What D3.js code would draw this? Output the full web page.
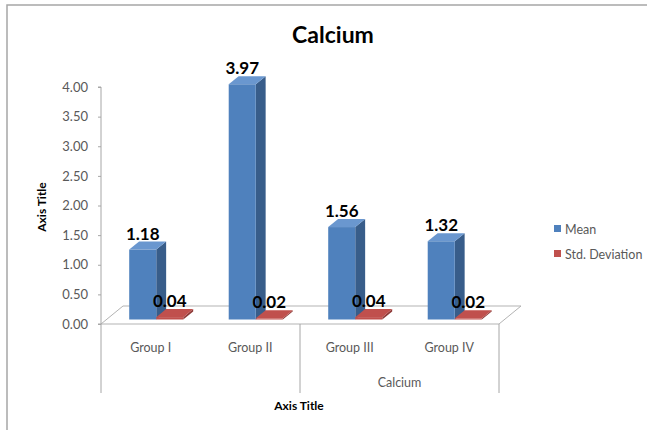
<!DOCTYPE html>
<html>
<head>
<meta charset="utf-8">
<script src="https://cdn.jsdelivr.net/npm/d3@7"></script>
<style>
  html, body { margin: 0; padding: 0; background: #fff; }
  svg { display: block; }
  text { font-family: Lato, "Open Sans", sans-serif; }
</style>
</head>
<body>
<svg id="chart" width="647" height="430"></svg>
<script>
// Calcium: mean and standard deviation per group
const groups = ["Group I", "Group II", "Group III", "Group IV"];
const seriesNames = ["Mean", "Std. Deviation"];
const meanValues = [1.18, 3.97, 1.56, 1.32];
const sdValues = [0.04, 0.02, 0.04, 0.02];
const yTicks = [0, 0.5, 1, 1.5, 2, 2.5, 3, 3.5, 4];

const colors = {
  "Mean": { front: "#4F81BD", side: "#385D8A", top: "#6A97CF" },
  "Std. Deviation": { front: "#C0504D", side: "#8E3A38", top: "#C0504D" }
};

const svg = d3.select("#chart");

// plot floor (front edge) and perspective depth vector
const left = 101, right = 499, baseY = 324, topY = 87;
const depth = { x: 22, y: -18 };
const frontT = 0.25, backT = 0.7;

const x0 = d3.scaleBand().domain(groups).range([left, right]).paddingInner(0).paddingOuter(0);
const x1 = d3.scaleBand().domain(seriesNames).range([0, x0.bandwidth()]).paddingInner(0).paddingOuter(0.84);
const y = d3.scaleLinear().domain([0, 4]).range([baseY, topY]);

// outer frame
svg.append("path")
  .attr("d", "M7,432 L7,5 L650,5")
  .attr("fill", "none").attr("stroke", "#a6a6a6").attr("stroke-width", 1.5);

// title
svg.append("text").attr("x", 333).attr("y", 43).attr("text-anchor", "middle")
  .attr("font-size", 23).attr("font-weight", "bold").attr("fill", "#000").text("Calcium");

// floor
svg.append("path")
  .attr("d", `M${left},${baseY} L${left + depth.x},${baseY + depth.y} L${right + depth.x},${baseY + depth.y} L${right},${baseY} Z`)
  .attr("fill", "none").attr("stroke", "#b3b3b3").attr("stroke-width", 1);

// y axis
const yAxis = d3.axisLeft(y).tickValues(yTicks).tickFormat(d3.format(".2f")).tickSize(3).tickPadding(10);
const yg = svg.append("g").attr("transform", `translate(${left},0)`).call(yAxis);
yg.select(".domain").attr("stroke", "#a6a6a6").attr("d", `M-3,${topY}H0V${baseY}H-3`);
yg.selectAll(".tick line").attr("stroke", "#a6a6a6");
yg.selectAll(".tick text").attr("font-size", 13).attr("fill", "#595959")
  .attr("font-family", "Lato, 'Open Sans', sans-serif");

svg.append("text")
  .attr("transform", `translate(46,207) rotate(-90)`)
  .attr("text-anchor", "middle").attr("font-size", 12).attr("font-weight", "bold")
  .attr("fill", "#000").text("Axis Title");

// category axis: divider lines and labels
const dividers = [left, x0("Group III"), right];
svg.selectAll("line.div").data(dividers).join("line").attr("class", "div")
  .attr("x1", d => d).attr("x2", d => d).attr("y1", baseY).attr("y2", 393)
  .attr("stroke", "#a6a6a6").attr("stroke-width", 1);

svg.selectAll("text.cat").data(groups).join("text").attr("class", "cat")
  .attr("x", d => x0(d) + x0.bandwidth() / 2).attr("y", 352)
  .attr("text-anchor", "middle").attr("font-size", 12.5).attr("fill", "#595959").text(d => d);

svg.append("text").attr("x", (x0("Group III") + right) / 2).attr("y", 387)
  .attr("text-anchor", "middle").attr("font-size", 12.5).attr("fill", "#595959").text("Calcium");

svg.append("text").attr("x", 299).attr("y", 410)
  .attr("text-anchor", "middle").attr("font-size", 12).attr("font-weight", "bold")
  .attr("fill", "#000").text("Axis Title");

// 3D columns
const records = [];
groups.forEach((g, i) => {
  records.push({ group: g, series: "Mean", value: meanValues[i] });
  records.push({ group: g, series: "Std. Deviation", value: sdValues[i] });
});

const fdx = depth.x * frontT, fdy = depth.y * frontT;
const bdx = depth.x * backT - fdx, bdy = depth.y * backT - fdy;

const bars = svg.append("g").selectAll("g.bar").data(records).join("g").attr("class", "bar");
bars.each(function (d) {
  const g = d3.select(this);
  const xl = x0(d.group) + x1(d.series) + fdx;
  const xr = xl + x1.bandwidth();
  const yb = y(0) + fdy;
  const yt = y(d.value) + fdy;
  const c = colors[d.series];
  // side face
  g.append("path")
    .attr("d", `M${xr},${yb} L${xr + bdx},${yb + bdy} L${xr + bdx},${yt + bdy} L${xr},${yt} Z`)
    .attr("fill", c.side);
  // top face
  g.append("path")
    .attr("d", `M${xl},${yt} L${xl + bdx},${yt + bdy} L${xr + bdx},${yt + bdy} L${xr},${yt} Z`)
    .attr("fill", c.top);
  // front face
  g.append("rect").attr("x", xl).attr("y", yt).attr("width", xr - xl).attr("height", Math.max(0.5, yb - yt))
    .attr("fill", c.front);
  // value label
  g.append("text").attr("x", (xl + xr) / 2).attr("y", yt - 10)
    .attr("text-anchor", "middle").attr("font-size", 17).attr("font-weight", "bold")
    .attr("fill", "#000").text(d3.format(".2f")(d.value));
});

// legend
const legend = svg.append("g").selectAll("g").data(seriesNames).join("g")
  .attr("transform", (d, i) => `translate(554,${229 + i * 25})`);
legend.append("rect").attr("x", 0).attr("y", -4).attr("width", 7).attr("height", 7)
  .attr("fill", d => colors[d].front);
legend.append("text").attr("x", 11).attr("y", 4.5).attr("font-size", 12.5).attr("fill", "#595959").text(d => d);
</script>
</body>
</html>
